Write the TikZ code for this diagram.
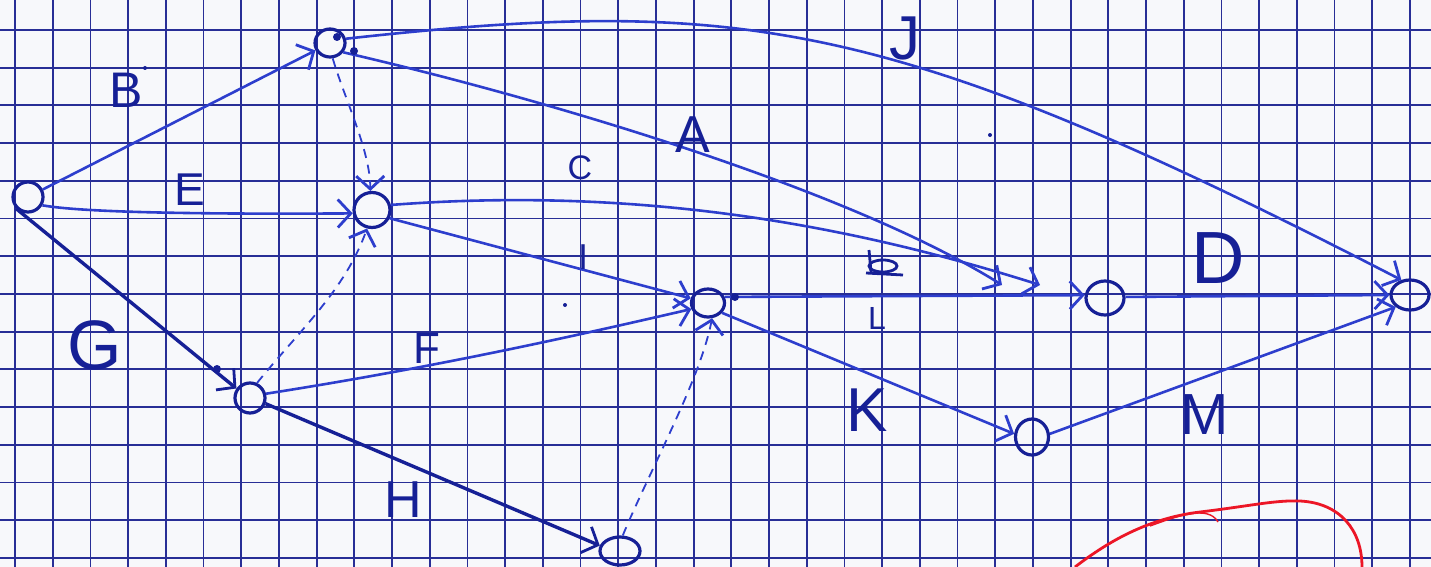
\documentclass[tikz,border=0pt]{standalone}
\usepackage{fontspec}
\setmainfont{Liberation Sans}
\usetikzlibrary{arrows.meta,shapes.geometric}
\definecolor{paper}{RGB}{247,248,251}
\definecolor{gridblue}{RGB}{40,46,150}
\definecolor{ink}{RGB}{45,62,205}
\definecolor{darkink}{RGB}{22,32,150}
\definecolor{redink}{RGB}{236,22,38}
\begin{document}
\begin{tikzpicture}[x=1pt,y=-1pt,
  ev/.style={draw=darkink,line width=3.2pt,ellipse,inner sep=0pt},
  act/.style={draw=ink,line width=2.6pt,-{Straight Barb[length=13pt,width=28pt,line width=2.8pt]}},
  actb/.style={act,draw=darkink,line width=3.4pt},
  dum/.style={act,dash pattern=on 9pt off 7pt,line width=1.8pt},
  lab/.style={text=darkink,inner sep=0pt,font=\fontsize{#1}{#1}\selectfont},
  gridline/.style={draw=gridblue,line width=1.8pt}]
\useasboundingbox[fill=paper] (0,0) rectangle (1431,567);
% grid paper
\foreach \k in {0,...,37} \draw[gridline] ({15+37.7*\k},0) -- ({15+37.7*\k},567);
\foreach \k in {0,...,14} \draw[gridline] (0,{30+37.7*\k}) -- (1431,{30+37.7*\k});
% events
\node[ev,minimum width=30pt,minimum height=30pt] (n1) at (28,197) {};
\node[ev,minimum width=30pt,minimum height=28pt] (n2) at (330,43) {};
\node[ev,minimum width=36pt,minimum height=35pt] (n3) at (372,210) {};
\node[ev,minimum width=30pt,minimum height=30pt] (n4) at (250,398) {};
\node[ev,minimum width=33pt,minimum height=28pt] (n5) at (708,303) {};
\node[ev,minimum width=40pt,minimum height=28pt] (n6) at (620,551) {};
\node[ev,minimum width=38pt,minimum height=34pt] (n7) at (1105,298) {};
\node[ev,minimum width=33pt,minimum height=36pt] (n8) at (1032,437) {};
\node[ev,minimum width=38pt,minimum height=30pt] (n9) at (1410,295) {};
\coordinate (aEnd) at (1002,285);
\coordinate (cEnd) at (1040,285);
% activities
\draw[act] (n1) -- (n2);
\draw[act] (n1.-30) .. controls (90,214) and (250,214) .. (n3.190);
\draw[actb] (n1.225) -- (n4.145);
\draw[act] (n2.15) .. controls (743,-5) and (893,18) .. (n9.120);
\draw[act] (n2.-35) .. controls (550,100) and (850,190) .. (aEnd);
\draw[act] (n3.15) .. controls (640,186) and (850,225) .. (cEnd);
\draw[act] (n3.-25) -- (n5.165);
\draw[act] (n4.15) .. controls (450,365) and (600,330) .. (n5.200);
\draw[actb] (n4.-20) -- (n6.165);
\draw[act] (n5.20) -- (n7.172);
\draw[act] (n5.-35) -- (n8.170);
\draw[act] (n7.3) -- (n9.180);
\draw[act] (n8.10) -- (n9.-140);
% dummies
\draw[dum] (n2.-80) .. controls (345,100) and (370,150) .. (n3.95);
\draw[dum] (n4.65) .. controls (300,330) and (345,290) .. (n3.-105);
\draw[dum] (n6.80) .. controls (650,470) and (700,380) .. (n5.-75);
% ink dots
\foreach \p in {(337,37),(354,51),(217,369),(735,297)} \fill[darkink] \p circle[radius=4pt];
\foreach \p in {(565,305),(990,135),(145,68)} \fill[darkink] \p circle[radius=2pt];
% labels
\node[lab=50] (lB) at (126,90) {B};
\node[lab=46] (lE) at (190,190) {E};
\node[lab=70] (lG) at (95,345) {G};
\node[lab=52] (lA) at (693,135) {A};
\node[lab=34] (lC) at (580,168) {C};
\node[lab=36] (lI) at (583,257) {I};
\node[lab=62] (lJ) at (905,38) {J};
\node[lab=44] (lF) at (427,348) {F};
\node[lab=52] (lH) at (403,500) {H};
\node[lab=32] (lL) at (877,318) {L};
\node[lab=62] (lK) at (867,410) {K};
\node[lab=74] (lD) at (1218,258) {D};
\node[lab=58] (lM) at (1205,415) {M};
% crossed-out scribble
\draw[darkink,line width=2.8pt] (869,250) -- (871,272);
\draw[darkink,line width=2.8pt] (883,266) ellipse [x radius=14pt, y radius=6pt];
\draw[darkink,line width=2.8pt] (866,273) -- (903,275);
% red pencil stroke
\draw[redink,line width=2.8pt] (1075,567) .. controls (1110,540) and (1150,518) .. (1200,512)
  .. controls (1250,506) and (1275,500) .. (1300,501)
  .. controls (1340,503) and (1362,530) .. (1362,567);
\draw[redink,line width=1.4pt] (1150,526) .. controls (1175,517) and (1208,504) .. (1218,522);
\end{tikzpicture}
\end{document}
